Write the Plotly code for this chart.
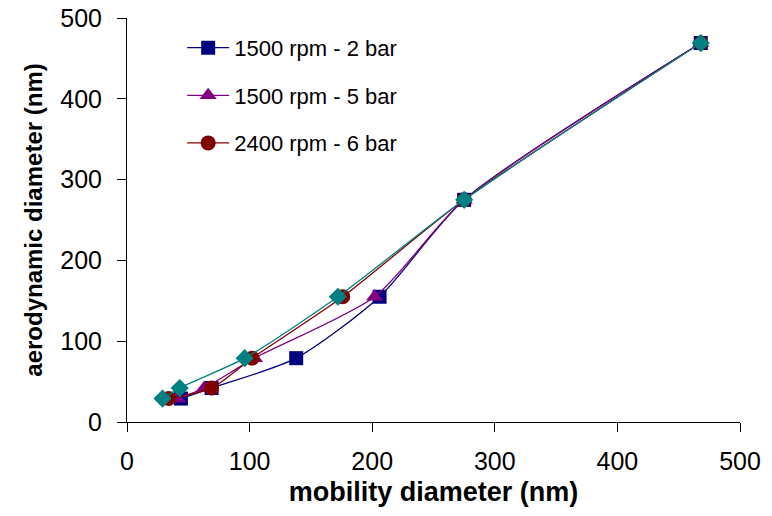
import plotly.graph_objects as go

y_aero = [29, 42, 79, 155, 275, 469]
x_s1 = [44, 69, 138, 206, 275, 468]
x_s2 = [41, 63, 104, 202, 275, 468]
x_s3 = [34, 69, 102, 176, 275, 468]
x_s4 = [29, 43, 96, 172, 275, 468]
names = ["1500 rpm - 2 bar", "1500 rpm - 5 bar", "2400 rpm - 6 bar", ""]
colors = ["#000080", "#800080", "#800000", "#008080"]
symbols = ["square", "triangle-up", "circle", "diamond"]
msizes = [14, 15, 15, 14]

FONT = "Liberation Sans, Arial, sans-serif"

fig = go.Figure()
for i, xs in enumerate([x_s1, x_s2, x_s3, x_s4]):
    fig.add_trace(go.Scatter(
        x=xs, y=y_aero, mode="lines+markers", name=names[i],
        line=dict(color=colors[i], width=1.3, shape="spline", smoothing=0.7),
        marker=dict(symbol=symbols[i], size=msizes[i], color=colors[i]),
        showlegend=(i < 3), legendgroup=f"g{i}",
    ))

axis_common = dict(
    range=[0, 500], dtick=100, showgrid=False, zeroline=False,
    showline=True, linecolor="black", linewidth=1,
    ticks="outside", ticklen=9, tickcolor="black", automargin=False,
    tickfont=dict(family=FONT, size=25, color="black"),
)
fig.update_xaxes(**axis_common, ticklabelstandoff=8,
                 title=dict(text="<b>mobility diameter (nm)</b>",
                            font=dict(family=FONT, size=27, color="black"),
                            standoff=8))
fig.update_yaxes(**axis_common, ticklabelstandoff=10,
                 title=dict(text="<b>aerodynamic diameter (nm)</b>",
                            font=dict(family=FONT, size=24, color="black"),
                            standoff=10))

fig.update_layout(
    width=772, height=516,
    margin=dict(l=127, r=32, t=18, b=94, autoexpand=False),
    plot_bgcolor="white", paper_bgcolor="white",
    legend=dict(x=0.09, y=0.978, xanchor="left", yanchor="top",
                font=dict(family=FONT, size=22, color="black"),
                tracegroupgap=16, bgcolor="rgba(0,0,0,0)", itemwidth=42),
)

fig.write_html("out.html")
